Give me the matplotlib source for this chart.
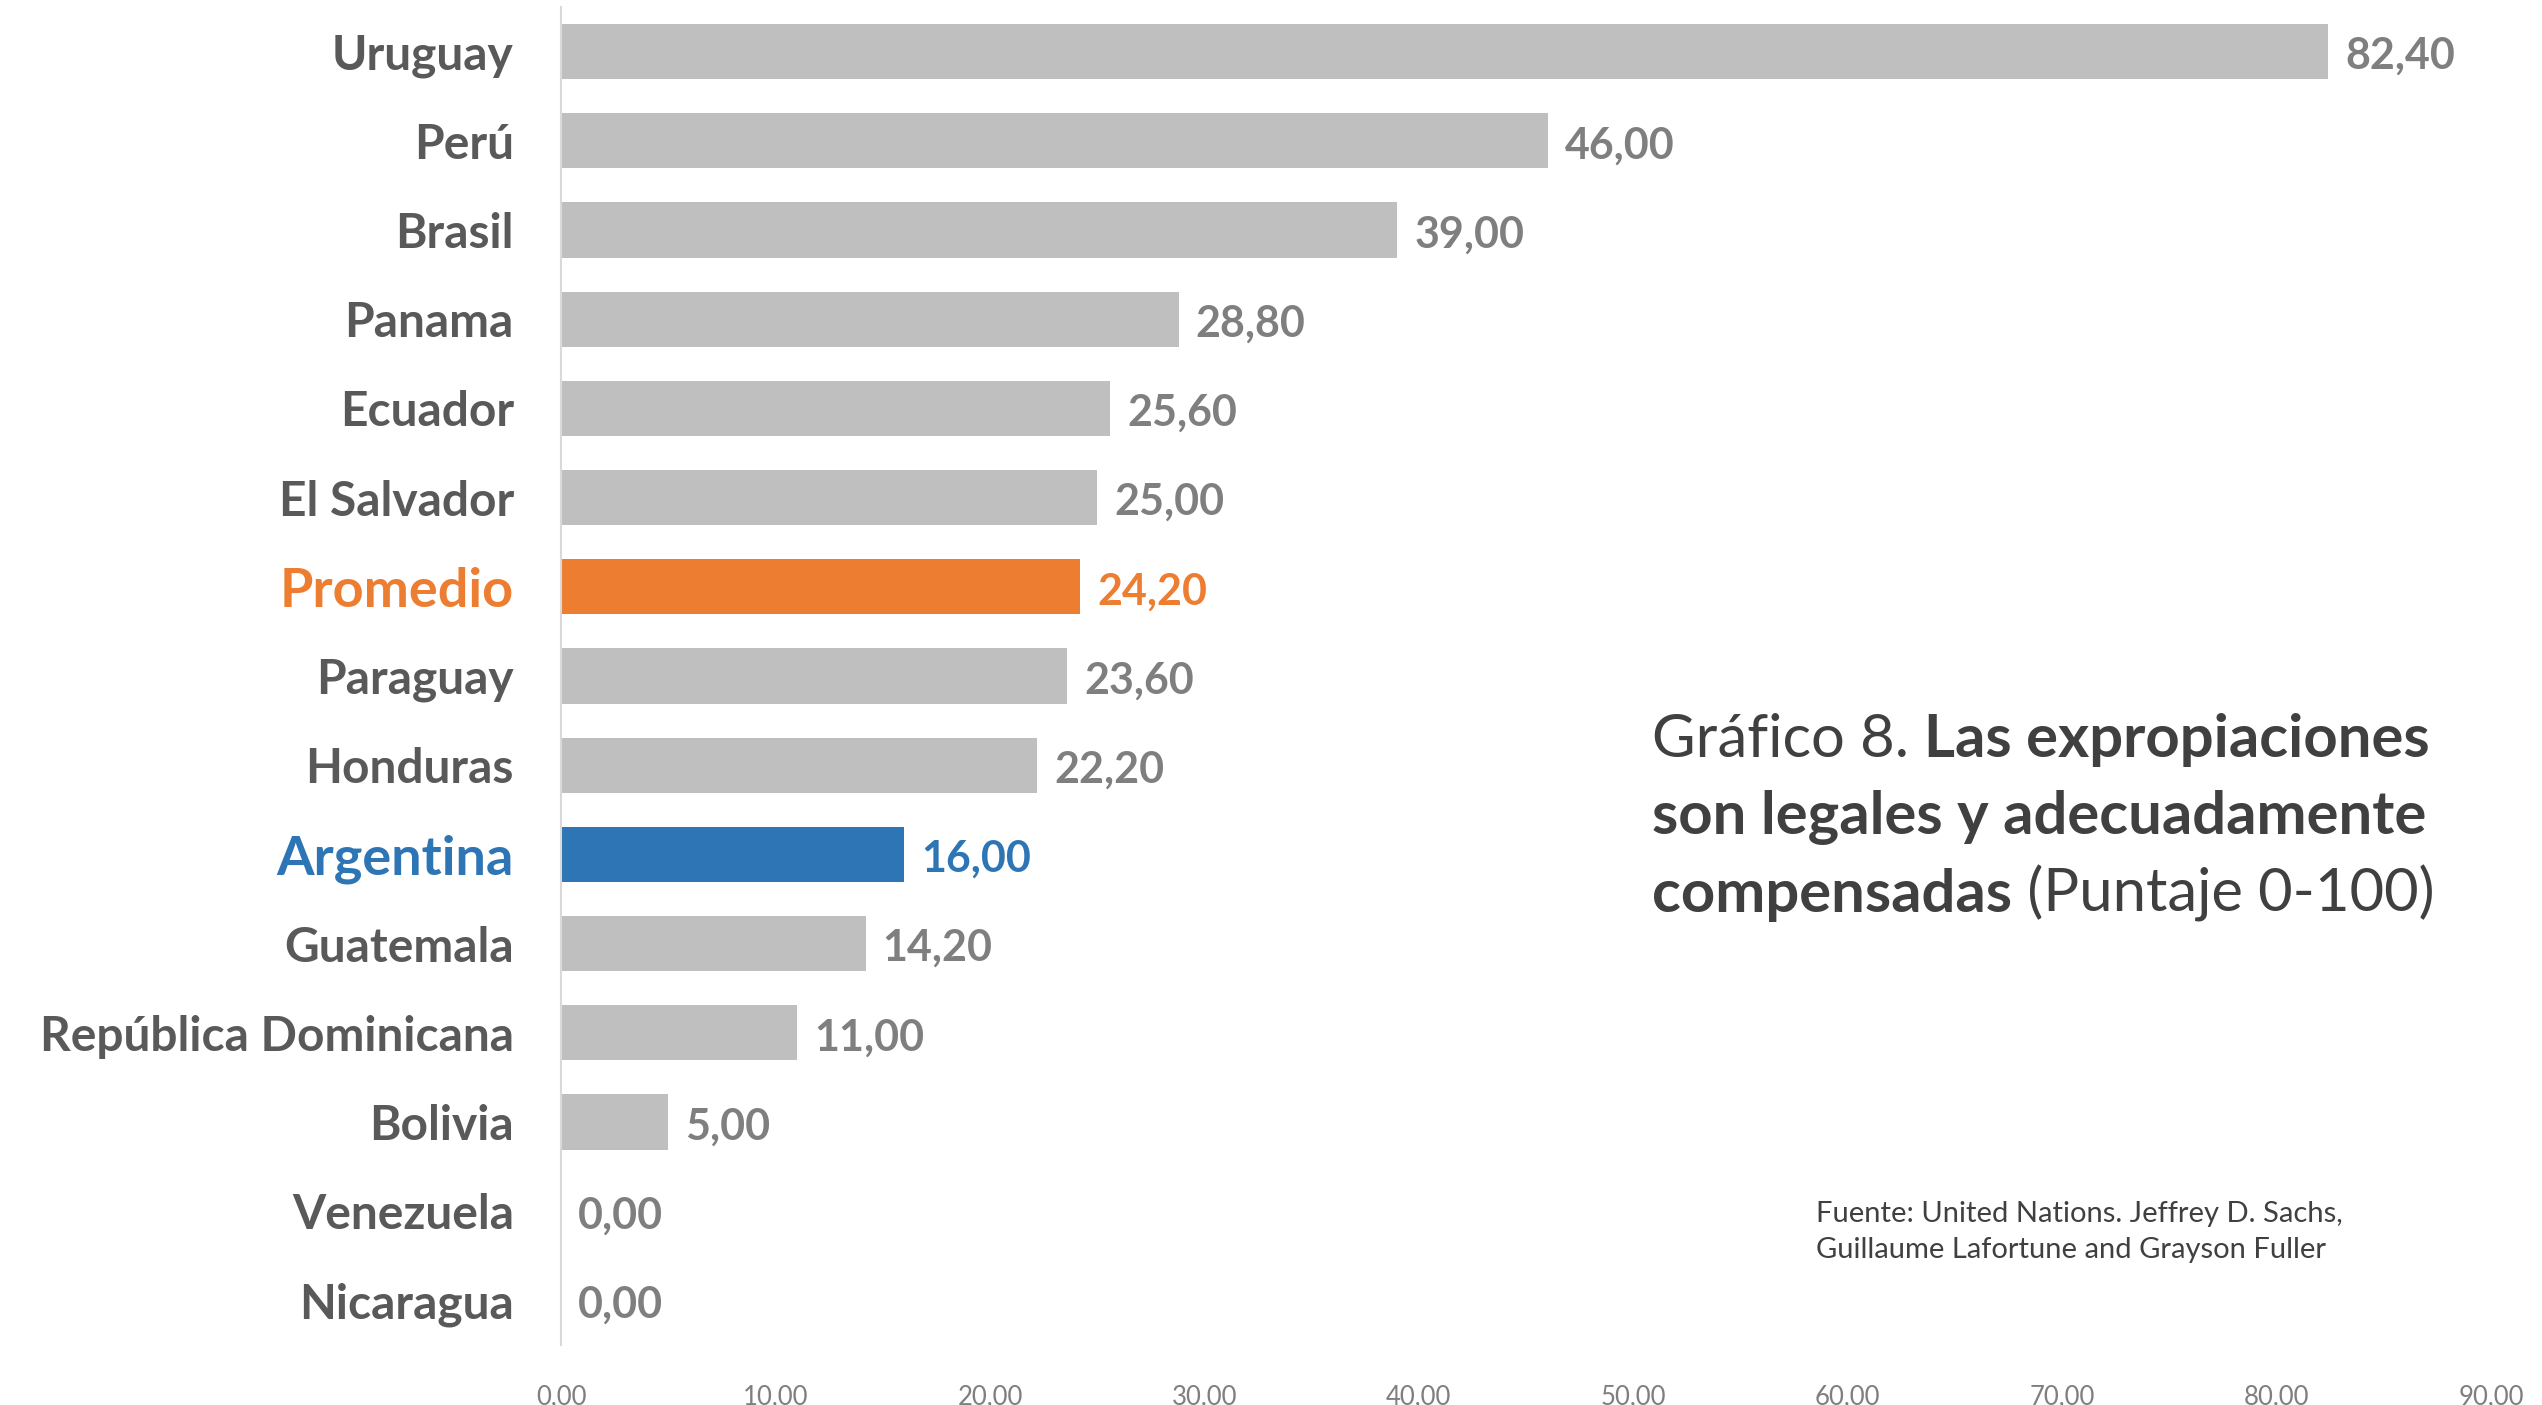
import matplotlib.pyplot as plt
import numpy as np

countries = ["Uruguay", "Perú", "Brasil", "Panama", "Ecuador", "El Salvador", "Promedio",
             "Paraguay", "Honduras", "Argentina", "Guatemala", "República Dominicana",
             "Bolivia", "Venezuela", "Nicaragua"]
scores = [82.4, 46.0, 39.0, 28.8, 25.6, 25.0, 24.2, 23.6, 22.2, 16.0, 14.2, 11.0, 5.0, 0.0, 0.0]
x_ticks = [0, 10, 20, 30, 40, 50, 60, 70, 80, 90]

GREY = '#BFBFBF'
ORANGE = '#ED7D31'
BLUE = '#2E75B6'
TEXT = '#595959'
highlight = {"Promedio": ORANGE, "Argentina": BLUE}


def fmt(v):
	return f"{v:.2f}".replace('.', ',')


def graphique():
	plt.rcParams['font.family'] = ['Lato', 'DejaVu Sans']
	fig = plt.figure(figsize=(25.42, 14.05), dpi=100)
	ax = fig.add_axes([0.2207, 0.0427, 0.7593, 0.9523])

	y = np.arange(len(countries))
	colors = [highlight.get(c, GREY) for c in countries]
	ax.barh(y, scores, height=0.62, color=colors)
	ax.set_ylim(len(countries) - 0.5, -0.5)
	ax.set_xlim(0, 90)

	for yi, (c, v) in enumerate(zip(countries, scores)):
		col = highlight.get(c, '#7F7F7F')
		ax.text(v + 0.8, yi + 0.05, fmt(v), va='center', ha='left',
				fontsize=31, fontweight='bold', color=col)

	ax.set_yticks(y)
	ax.set_yticklabels(countries)
	for lab in ax.get_yticklabels():
		c = lab.get_text()
		lab.set_fontweight('bold')
		if c in highlight:
			lab.set_color(highlight[c])
			lab.set_fontsize(39)
		else:
			lab.set_color(TEXT)
			lab.set_fontsize(34.5)
	ax.tick_params(axis='y', length=0, pad=34)

	ax.set_xticks(x_ticks)
	ax.set_xticklabels([fmt(t) for t in x_ticks], fontsize=18.5, color='#7F7F7F')
	ax.tick_params(axis='x', length=0, pad=28)

	for s in ['top', 'right', 'bottom']:
		ax.spines[s].set_visible(False)
	ax.spines['left'].set_color('#D9D9D9')
	ax.spines['left'].set_linewidth(1.5)

	# title in pieces (mixed regular / bold)
	tc = '#404040'
	fs = 43
	t1 = fig.text(1652 / 2542, 1 - 767 / 1405, "Gráfico 8. ", fontsize=fs, color=tc, va='bottom', ha='left')
	ax.annotate("Las expropiaciones", xy=(1, 0), xycoords=t1, va='bottom', ha='left',
				fontsize=fs, color=tc, fontweight='bold')
	fig.text(1652 / 2542, 1 - 845 / 1405, "son legales y adecuadamente", fontsize=fs, color=tc,
			 va='bottom', ha='left', fontweight='bold')
	t3 = fig.text(1652 / 2542, 1 - 922 / 1405, "compensadas", fontsize=fs, color=tc,
				  va='bottom', ha='left', fontweight='bold')
	ax.annotate(" (Puntaje 0-100)", xy=(1, 0), xycoords=t3, va='bottom', ha='left',
				fontsize=fs, color=tc)

	fig.text(1816 / 2542, 1 - 1232 / 1405, "Fuente: United Nations. Jeffrey D. Sachs,\nGuillaume Lafortune and Grayson Fuller",
			 fontsize=21, color=tc, va='center', ha='left', linespacing=1.45)

	fig.savefig('out.png', dpi=100)


def main():
	try:
		graphique()
	except Exception as e:
		print(f"{type(e).__name__}: {e}")


if __name__ == '__main__':
	main()
